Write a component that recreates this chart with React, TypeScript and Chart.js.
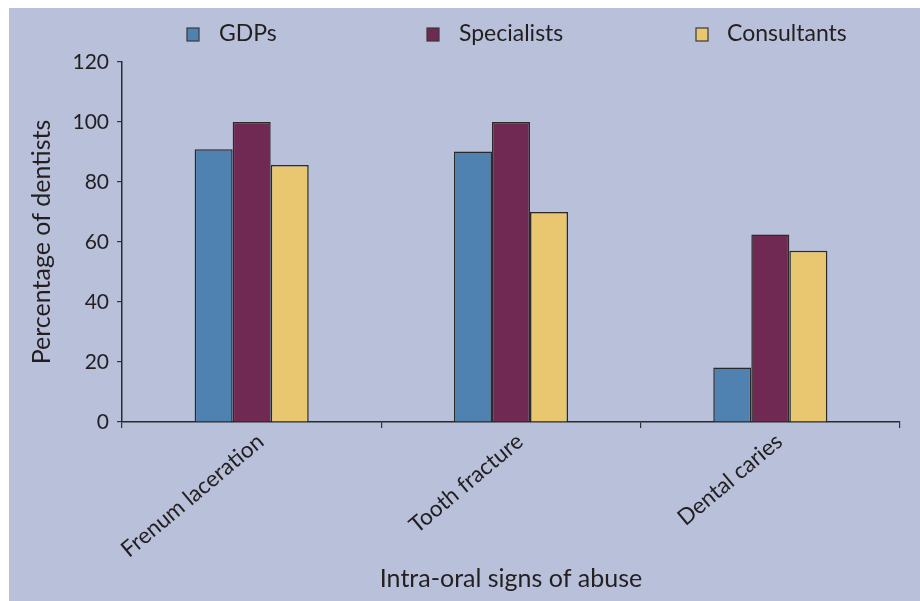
import React, { useEffect, useRef } from "react";
import { Chart, registerables } from "chart.js";

Chart.register(...registerables);

// Intra-oral signs of abuse recognised, by dentist group (%)
const categories = ["Frenum laceration", "Tooth fracture", "Dental caries"];
const seriesNames = ["GDPs", "Specialists", "Consultants"];
const gdps = [90.9, 90.2, 18.2];
const specialists = [100, 100, 62.5];
const consultants = [85.7, 70, 57.1];
const yTicks = [0, 20, 40, 60, 80, 100, 120];

const COLORS = ["#4f82b0", "#6f2952", "#e8c770"];
const TEXT = "#231f20";
const FONT = "Lato, 'Liberation Sans', sans-serif";

// Legend drawn across the top band of the panel
const legendPlugin = {
  id: "topLegend",
  afterDraw(chart: any) {
    const { ctx } = chart;
    const slots = [
      { box: 178, text: 210 },
      { box: 418, text: 450 },
      { box: 687, text: 718 },
    ];
    ctx.save();
    chart.data.datasets.forEach((ds: any, i: number) => {
      const s = slots[i];
      ctx.fillStyle = ds.backgroundColor;
      ctx.fillRect(s.box, 20, 12, 13);
      ctx.strokeStyle = "#3a3a3a";
      ctx.lineWidth = 1.2;
      ctx.strokeRect(s.box, 20, 12, 13);
      ctx.fillStyle = TEXT;
      ctx.font = `23px ${FONT}`;
      ctx.textBaseline = "middle";
      ctx.textAlign = "left";
      ctx.fillText(ds.label, s.text, 26);
    });
    ctx.restore();
  },
};

export default function App() {
  const canvasRef = useRef<HTMLCanvasElement | null>(null);

  useEffect(() => {
    if (!canvasRef.current) return;
    const values = [gdps, specialists, consultants];
    const chart = new Chart(canvasRef.current, {
      type: "bar",
      data: {
        labels: categories,
        datasets: seriesNames.map((name, i) => ({
          label: name,
          data: values[i],
          backgroundColor: COLORS[i],
          borderColor: "#2a2a2a",
          borderWidth: 1.5,
          categoryPercentage: 0.44,
          barPercentage: 1,
        })),
      },
      options: {
        animation: false,
        responsive: true,
        maintainAspectRatio: false,
        layout: { padding: { top: 54, right: 20, left: 0, bottom: 0 }, autoPadding: false },
        plugins: {
          legend: { display: false },
          tooltip: { enabled: false },
        },
        scales: {
          x: {
            afterFit: (scale: any) => {
              scale.height = 179;
            },
            grid: {
              drawOnChartArea: false,
              drawTicks: true,
              tickLength: 6,
              color: "#333",
              lineWidth: 1.2,
            },
            border: { display: true, color: "#2a2a2a", width: 1.5 },
            ticks: {
              minRotation: 40,
              maxRotation: 40,
              padding: 0,
              labelOffset: 9,
              color: TEXT,
              font: { family: FONT, size: 22.5 },
            },
            title: {
              display: true,
              text: "Intra-oral signs of abuse",
              color: TEXT,
              font: { family: FONT, size: 25 },
              padding: { top: 0, bottom: 7 },
            },
          },
          y: {
            min: 0,
            max: 120,
            afterFit: (scale: any) => {
              scale.width = 113;
            },
            afterBuildTicks: (scale: any) => {
              scale.ticks = yTicks.map((v) => ({ value: v }));
            },
            grid: {
              drawOnChartArea: false,
              drawTicks: true,
              tickLength: 5,
              color: "#333",
              lineWidth: 1.2,
            },
            border: { display: true, color: "#2a2a2a", width: 1.5 },
            ticks: {
              padding: 8,
              color: TEXT,
              font: { family: FONT, size: 21 },
            },
            title: {
              display: true,
              text: "Percentage of dentists",
              color: TEXT,
              font: { family: FONT, size: 25 },
              padding: { top: 18, bottom: 0 },
            },
          },
        },
      },
      plugins: [legendPlugin],
    });
    return () => chart.destroy();
  }, []);

  return (
    <div
      style={{
        position: "fixed",
        left: 9,
        top: 8,
        width: 911,
        height: 593,
        background: "#b8c0da",
      }}
    >
      <canvas ref={canvasRef} />
    </div>
  );
}
